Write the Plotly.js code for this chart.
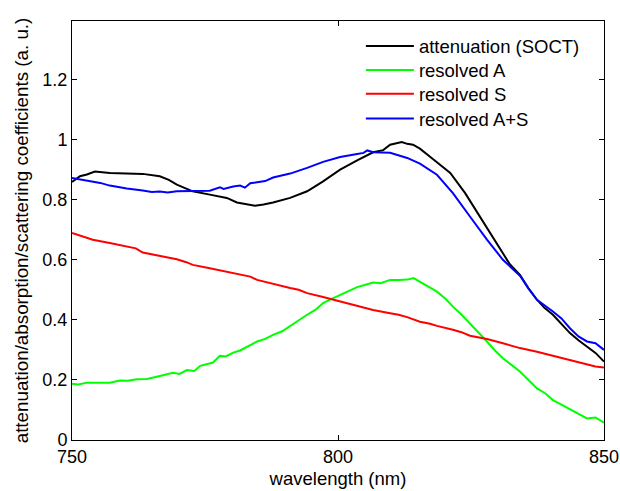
<!DOCTYPE html>
<html>
<head>
<meta charset="utf-8">
<script src="https://cdn.plot.ly/plotly-3.0.1.min.js"></script>
<style>html,body{margin:0;padding:0;background:#fff;}#chart{width:620px;height:491px;}</style>
</head>
<body>
<div id="chart"></div>
<script>
// attenuation (SOCT)
const wlAtt = [750,751.5,752.8,754.3,757.1,760.3,763.3,766.5,768.2,769.7,772.7,775.9,779.1,781.0,783.5,784.4,786.0,787.8,791.0,794.2,797.2,800.4,803.6,806.6,808.5,809.8,812.0,813.0,814.1,815.4,817.3,819.2,821.1,823.9,826.7,829.5,832.3,834.2,835.8,837.4,838.8,840.4,842.0,843.6,845.2,846.8,848.4,850];
const att   = [0.859,0.878,0.884,0.894,0.889,0.888,0.886,0.878,0.866,0.850,0.828,0.817,0.806,0.791,0.782,0.780,0.784,0.791,0.806,0.828,0.861,0.900,0.931,0.958,0.965,0.983,0.992,0.986,0.983,0.970,0.943,0.917,0.889,0.822,0.744,0.667,0.585,0.550,0.505,0.467,0.440,0.417,0.385,0.356,0.332,0.311,0.290,0.261];

// resolved A
const wlA = [750,751.2,752.8,757.1,759.0,760.5,762.2,764.1,766.5,769.0,770.2,771.6,773.0,774.1,776.5,777.8,778.9,780.3,781.6,783.5,784.8,786.2,787.8,789.5,791.0,792.5,794.2,795.8,797.2,798.8,800.4,802.0,803.6,805.0,806.6,808.0,809.8,811.5,813.0,814.2,815.4,817.3,818.6,820.2,821.6,823.2,824.8,826.4,828.0,829.5,831.0,832.6,834.2,835.8,837.4,839.0,840.4,842.0,843.6,845.2,846.8,848.4,850];
const resA = [0.187,0.185,0.191,0.191,0.198,0.197,0.202,0.203,0.213,0.224,0.220,0.233,0.230,0.247,0.258,0.280,0.278,0.291,0.298,0.317,0.328,0.336,0.350,0.362,0.380,0.396,0.417,0.434,0.456,0.470,0.483,0.497,0.509,0.516,0.524,0.522,0.533,0.533,0.534,0.539,0.526,0.506,0.494,0.470,0.444,0.418,0.389,0.360,0.328,0.298,0.272,0.250,0.228,0.200,0.172,0.155,0.133,0.118,0.102,0.086,0.072,0.075,0.058];

// resolved S
const wlS = [750,752.0,753.9,757.1,760.3,762.0,763.3,766.5,769.7,771.5,772.7,775.9,779.1,781.6,783.5,784.8,787.8,791.0,792.6,794.2,797.2,800.4,803.6,805.2,806.6,809.8,811.4,813.0,815.4,817.3,818.6,821.6,823.2,824.8,828.0,831.0,834.2,837.4,840.4,843.6,846.8,848.4,850];
const resS = [0.689,0.679,0.667,0.656,0.644,0.638,0.624,0.613,0.602,0.592,0.583,0.572,0.561,0.551,0.544,0.533,0.519,0.506,0.500,0.489,0.476,0.461,0.447,0.441,0.433,0.422,0.417,0.409,0.394,0.387,0.380,0.367,0.359,0.347,0.336,0.322,0.306,0.294,0.280,0.267,0.250,0.245,0.241];

// resolved A+S
const wlAS = [750,752.8,755.3,757.1,760.3,763.3,765.0,766.5,768.0,769.7,772.7,775.9,777.8,778.5,780.3,781.6,782.5,783.5,784.8,786.3,787.8,791.0,794.2,797.2,800.4,802.0,803.6,804.8,805.5,806.6,809.8,813.0,815.4,818.6,821.6,824.8,828.0,831.0,834.2,835.8,837.4,840.4,842.0,843.6,845.2,846.8,848.4,850];
const resAS = [0.872,0.864,0.856,0.847,0.837,0.831,0.826,0.827,0.824,0.828,0.828,0.830,0.841,0.836,0.844,0.847,0.840,0.855,0.858,0.862,0.874,0.887,0.906,0.926,0.942,0.946,0.952,0.956,0.964,0.958,0.956,0.939,0.920,0.883,0.822,0.744,0.667,0.600,0.547,0.505,0.467,0.428,0.405,0.372,0.345,0.328,0.322,0.300];

const xTicks = [750, 800, 850];
const yTicks = [0, 0.2, 0.4, 0.6, 0.8, 1, 1.2];
const yTickText = ['0', '0.2', '0.4', '0.6', '0.8', '1', '1.2'];

const font = 'Liberation Sans, Arial, Helvetica, sans-serif';

const legendIds = ['legend', 'legend2', 'legend3', 'legend4'];
const traces = [
  {x: wlAtt, y: att, name: 'attenuation (SOCT)', color: '#000000'},
  {x: wlA, y: resA, name: 'resolved A', color: '#00ff00'},
  {x: wlS, y: resS, name: 'resolved S', color: '#ff0000'},
  {x: wlAS, y: resAS, name: 'resolved A+S', color: '#0000ff'}
].map((t, i) => ({
  x: t.x, y: t.y, name: t.name, type: 'scatter', mode: 'lines',
  line: {color: t.color, width: 2}, legend: legendIds[i], showlegend: true
}));

const axisCommon = {
  showline: true, linecolor: '#000', linewidth: 1, mirror: 'ticks',
  ticks: 'inside', ticklen: 5, tickcolor: '#000', tickwidth: 1,
  showgrid: false, zeroline: false,
  tickfont: {family: font, size: 18, color: '#000'}
};

// legend rows (paper y of row centres)
const legendRowY = [0.939, 0.882, 0.825, 0.766];

const layout = {
  width: 620, height: 491,
  margin: {l: 72, r: 16, t: 21, b: 51},
  paper_bgcolor: '#fff', plot_bgcolor: '#fff',
  font: {family: font, size: 18, color: '#000'},
  showlegend: true,
  xaxis: Object.assign({}, axisCommon, {
    range: [750, 850], tickvals: xTicks, ticktext: xTicks.map(String),
    title: {text: 'wavelength (nm)', font: {family: font, size: 18.5, color: '#000'}, standoff: 6}
  }),
  yaxis: Object.assign({}, axisCommon, {
    range: [0, 1.395], tickvals: yTicks, ticktext: yTickText,
    title: {text: 'attenuation/absorption/scattering coefficients (a. u.)', font: {family: font, size: 18.8, color: '#000'}, standoff: 8}
  })
};
legendIds.forEach((id, i) => {
  layout[id] = {
    x: 0.543, y: legendRowY[i], xanchor: 'left', yanchor: 'middle',
    bgcolor: 'rgba(0,0,0,0)', borderwidth: 0,
    font: {family: font, size: 18.5, color: '#000'},
    itemwidth: 48
  };
});

Plotly.newPlot('chart', traces, layout, {staticPlot: true, displayModeBar: false});
</script>
</body>
</html>
